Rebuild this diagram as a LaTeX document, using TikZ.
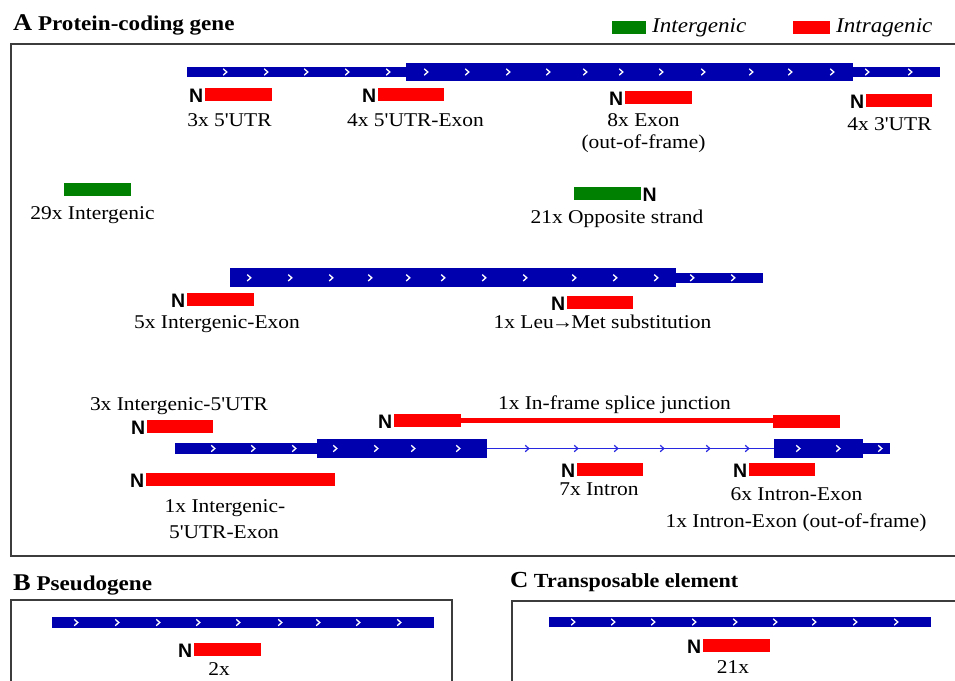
\documentclass[tikz,border=0pt]{standalone}
\usepackage{fontspec}
\setmainfont{Liberation Serif}[FakeStretch=1.1, Ligatures=TeXOff]
\newfontfamily\nsans{Liberation Sans}
\definecolor{genblue}{RGB}{0,0,175}
\definecolor{intronblue}{RGB}{40,40,225}
\definecolor{interg}{RGB}{0,128,0}
\definecolor{intrag}{RGB}{255,0,0}
\definecolor{boxline}{RGB}{60,60,60}
\tikzset{
  lbl/.style={font=\fontsize{19.5}{22}\selectfont, anchor=base, inner sep=0pt},
  ttl/.style={font=\fontsize{21}{24}\selectfont\bfseries, anchor=base west, inner sep=0pt},
  leg/.style={font=\fontsize{21}{24}\selectfont\itshape, anchor=base west, inner sep=0pt},
  nterm/.style={font=\nsans\fontsize{19.5}{22}\selectfont\bfseries, anchor=base east, inner sep=0pt},
  ntermr/.style={font=\nsans\fontsize{19.5}{22}\selectfont\bfseries, anchor=base west, inner sep=0pt},
  gene/.style={fill=genblue},
  intra/.style={fill=intrag},
  inter/.style={fill=interg},
  chevw/.style={draw=white, line width=1.3pt},
  chevb/.style={draw=intronblue, line width=1.2pt},
  panel/.style={draw=boxline, line width=1.4pt},
}
\begin{document}
\begin{tikzpicture}[x=1pt,y=-1pt]
\useasboundingbox (0,0) rectangle (955,680);
% ---------- titles and legend ----------
\node[ttl] (tA) at (13,30) {{\fontsize{24}{24}\selectfont A} Protein-coding gene};
\fill[inter] (612,21) rectangle (646,34);
\node[leg] (legInter) at (652,32) {Intergenic};
\fill[intra] (793,21) rectangle (830,34);
\node[leg] (legIntra) at (836,32) {Intragenic};
% ---------- panel A box ----------
\draw[panel] (960,44) -- (11,44) -- (11,556) -- (960,556);
% ---------- gene 1 ----------
\fill[gene] (187,67) rectangle (407,77);
\fill[gene] (406,63) rectangle (853,81);
\fill[gene] (852,67) rectangle (940,77);
\foreach \x in {225,266,306,347,388,426,467,508,548,585,621,661,703,751,790,832,867,910}
  \draw[chevw] (\x-1.8,72-3.2) -- (\x+1.8,72) -- (\x-1.8,72+3.2);
\fill[intra] (205,88) rectangle (272,101);
\node[nterm] (n1) at (203.5,102) {N};
\node[lbl] (l1) at (229.5,126) {3x 5'UTR};
\fill[intra] (378,88) rectangle (444,101);
\node[nterm] (n2) at (376.5,102) {N};
\node[lbl] (l2) at (415.5,126) {4x 5'UTR-Exon};
\fill[intra] (625,91) rectangle (692,104);
\node[nterm] (n3) at (623.5,105) {N};
\node[lbl] (l3a) at (643.5,126) {8x Exon};
\node[lbl] (l3b) at (643.5,148) {(out-of-frame)};
\fill[intra] (866,94) rectangle (932,107);
\node[nterm] (n4) at (864.5,108) {N};
\node[lbl] (l4) at (889.5,130) {4x 3'UTR};
% ---------- intergenic rows ----------
\fill[inter] (64,183) rectangle (131,196);
\node[lbl] (l5) at (92.5,219) {29x Intergenic};
\fill[inter] (574,187) rectangle (641,200);
\node[ntermr] (n6) at (642.5,201) {N};
\node[lbl] (l6) at (617,223) {21x Opposite strand};
% ---------- gene 2 ----------
\fill[gene] (230,268) rectangle (676,287);
\fill[gene] (675,273) rectangle (763,283);
\foreach \x in {249,290,331,370,408,443,484,525,574,615,656,692,733}
  \draw[chevw] (\x-1.8,277.8-3.2) -- (\x+1.8,277.8) -- (\x-1.8,277.8+3.2);
\fill[intra] (187,293) rectangle (254,306);
\node[nterm] (n7) at (185.5,307) {N};
\node[lbl] (l7) at (217,328) {5x Intergenic-Exon};
\fill[intra] (567,296) rectangle (633,309);
\node[nterm] (n8) at (565.5,310) {N};
\node[lbl] (l8) at (602.5,328) {1x Leu\kern-2pt→\kern-2pt Met substitution};
% ---------- gene 3 ----------
\draw[intronblue, line width=1.5pt] (486,448.5) -- (775,448.5);
\fill[gene] (175,443) rectangle (318,454);
\fill[gene] (317,439) rectangle (487,458);
\fill[gene] (774,439) rectangle (863,458);
\fill[gene] (862,443) rectangle (890,454);
\foreach \x in {213,253,294,335,376,413,458,798,838,880}
  \draw[chevw] (\x-1.8,448.5-3.2) -- (\x+1.8,448.5) -- (\x-1.8,448.5+3.2);
\foreach \x in {527,576,616,662,708,747}
  \draw[chevb] (\x-1.8,448.5-3.2) -- (\x+1.8,448.5) -- (\x-1.8,448.5+3.2);
\node[lbl] (l9) at (179,410) {3x Intergenic-5'UTR};
\fill[intra] (147,420) rectangle (213,433);
\node[nterm] (n9) at (145.5,434) {N};
\node[lbl] (l10) at (614.5,409) {1x In-frame splice junction};
\fill[intra] (460,417.5) rectangle (774,422.8);
\fill[intra] (394,414) rectangle (461,427);
\fill[intra] (773,414.5) rectangle (840,428);
\node[nterm] (n10) at (392.5,428) {N};
\fill[intra] (146,473) rectangle (335,486);
\node[nterm] (n11) at (144.5,487) {N};
\node[lbl] (l11a) at (225,512) {1x Intergenic-};
\node[lbl] (l11b) at (224,538) {5'UTR-Exon};
\fill[intra] (577,463) rectangle (643,476);
\node[nterm] (n12) at (575.5,477) {N};
\node[lbl] (l12) at (599,495) {7x Intron};
\fill[intra] (749,463) rectangle (815,476);
\node[nterm] (n13) at (747.5,477) {N};
\node[lbl] (l13a) at (796.5,500) {6x Intron-Exon};
\node[lbl] (l13b) at (796,527) {1x Intron-Exon (out-of-frame)};
% ---------- panel B ----------
\node[ttl] (tB) at (13,590) {{\fontsize{24}{24}\selectfont B} Pseudogene};
\draw[panel] (11,690) -- (11,600) -- (452,600) -- (452,690);
\fill[gene] (52,617) rectangle (434,628);
\foreach \x in {76,117,158,198,238,280,318,358,399}
  \draw[chevw] (\x-1.8,622.5-3.2) -- (\x+1.8,622.5) -- (\x-1.8,622.5+3.2);
\fill[intra] (194,643) rectangle (261,656);
\node[nterm] (n14) at (192.5,657) {N};
\node[lbl] (l14) at (219,675) {2x};
% ---------- panel C ----------
\node[ttl, font=\fontsize{20}{24}\selectfont\bfseries] (tC) at (510,587) {{\fontsize{23}{24}\selectfont C} Transposable element};
\draw[panel] (512,690) -- (512,601) -- (960,601);
\fill[gene] (549,617) rectangle (931,627);
\foreach \x in {573,613,653,694,735,775,814,855,896}
  \draw[chevw] (\x-1.8,622-3.2) -- (\x+1.8,622) -- (\x-1.8,622+3.2);
\fill[intra] (703,639) rectangle (770,652);
\node[nterm] (n15) at (701.5,653) {N};
\node[lbl] (l15) at (733,673) {21x};
\end{tikzpicture}
\end{document}
